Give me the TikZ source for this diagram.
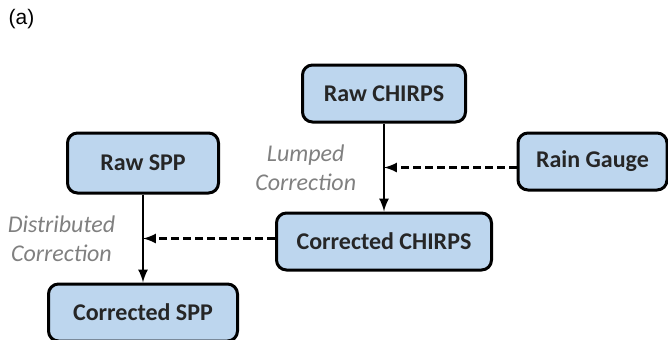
\documentclass[tikz,border=0pt]{standalone}
\usepackage{fontspec}
\setmainfont{Carlito}
\newfontfamily\tagfont{Liberation Sans}
\usetikzlibrary{positioning,arrows}
\definecolor{boxblue}{RGB}{189,214,238}
\definecolor{lblgray}{RGB}{128,128,128}
\tikzset{
  nd/.style={rectangle, rounded corners=5pt, minimum height=28.5pt, text centered, draw=black, line width=1.5pt, fill=boxblue, text=black!85, font=\bfseries\fontsize{12}{14.5}\selectfont},
  lbl/.style={text=lblgray, align=center, font=\itshape\fontsize{12}{14.5}\selectfont},
  corr/.style={->, dash pattern=on 4pt off 2pt},
  node distance=44pt
}
\begin{document}
\begin{tikzpicture}[x=1pt, y=1pt, line width=1.2pt, >=latex]
	\useasboundingbox (0,0) rectangle (334,-169.5);
	\node[font=\tagfont\fontsize{10.5}{12}\selectfont] (tag) at (10.75,-9.5) {(a)};

	\node[nd, minimum width=81.5pt] (rawchirps) at (192,-46.75) {Raw CHIRPS};
	\node[nd, minimum width=107.5pt, below=of rawchirps] (corrchirps) {Corrected CHIRPS};
	\node[nd, minimum width=75.5pt, minimum height=30pt] (rawspp) at (71.5,-81.5) {Raw SPP};
	\node[nd, minimum width=94.5pt, below=of rawspp] (corrspp) {Corrected SPP};
	\node[nd, minimum width=74.5pt] (gauge) at (296.25,-80.75) {Rain Gauge};

	\draw[->] (rawchirps) -- coordinate (m1) (corrchirps);
	\draw[->] (rawspp) -- coordinate (m2) (corrspp);

	\draw[corr] (gauge.west |- m1) -- (m1);
	\draw[corr] (corrchirps.west |- m2) -- (m2);

	\node[lbl, left=10pt of m1] (lumped) {Lumped\\Correction};
	\node[lbl, left=10pt of m2] (distributed) {Distributed\\Correction};
\end{tikzpicture}
\end{document}
